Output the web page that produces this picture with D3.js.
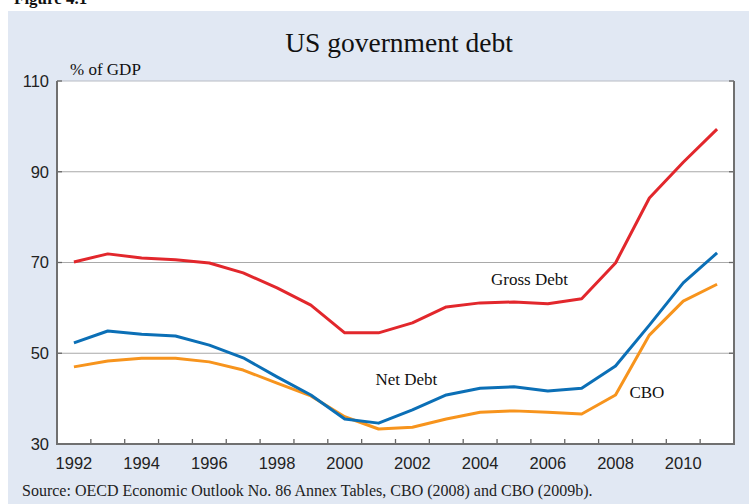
<!DOCTYPE html>
<html>
<head>
<meta charset="utf-8">
<script src="https://cdn.jsdelivr.net/npm/d3@7"></script>
<style>
  body { margin: 0; background: #fff; }
  svg { display: block; }
</style>
</head>
<body>
<script>
  var years = d3.range(1992, 2012);
  var grossDebt = [70.1, 71.9, 71.0, 70.6, 69.9, 67.7, 64.4, 60.6, 54.5, 54.5,
                   56.7, 60.2, 61.1, 61.3, 60.9, 62.0, 69.9, 84.2, 92.1, 99.4];
  var netDebt = [52.3, 54.9, 54.2, 53.8, 51.8, 49.0, 44.8, 40.8, 35.5, 34.6,
                 37.5, 40.8, 42.3, 42.6, 41.7, 42.3, 47.2, 56.2, 65.5, 72.1];
  var cbo = [47.0, 48.3, 48.9, 48.9, 48.1, 46.3, 43.4, 40.6, 36.0, 33.3,
             33.7, 35.5, 37.0, 37.3, 37.0, 36.6, 40.8, 54.0, 61.5, 65.2];
  var yTicks = [30, 50, 70, 90, 110];
  var xLabels = [1992, 1994, 1996, 1998, 2000, 2002, 2004, 2006, 2008, 2010];

  var width = 749, height = 504;
  var plot = {left: 57, right: 734, top: 81, bottom: 444};

  var svg = d3.select("body").append("svg")
      .attr("width", width)
      .attr("height", height);

  // panel
  svg.append("rect")
      .attr("x", 8).attr("y", 11)
      .attr("width", width - 8).attr("height", height - 11)
      .attr("fill", "#e1e8f3");

  svg.append("text")
      .attr("x", 14).attr("y", 4)
      .attr("font-family", "Liberation Serif, Times New Roman, serif")
      .attr("font-weight", "bold")
      .attr("font-size", "17px")
      .attr("fill", "#111")
      .text("Figure 4.1");

  svg.append("rect")
      .attr("x", plot.left).attr("y", plot.top)
      .attr("width", plot.right - plot.left).attr("height", plot.bottom - plot.top)
      .attr("fill", "#fff");

  var xScale = d3.scaleBand()
      .domain(years)
      .range([plot.left, plot.right]);
  var yScale = d3.scaleLinear()
      .domain([30, 110])
      .range([plot.bottom, plot.top]);

  function cx(y) { return xScale(y) + xScale.bandwidth() / 2; }

  // gridlines
  svg.append("g").selectAll("line")
    .data(yTicks.filter(function(d) { return d > 30 && d < 110; }))
    .enter().append("line")
      .attr("x1", plot.left).attr("x2", plot.right)
      .attr("y1", function(d) { return yScale(d); })
      .attr("y2", function(d) { return yScale(d); })
      .attr("stroke", "#a9a9a9")
      .attr("stroke-width", 1.2);

  // top line
  svg.append("line")
      .attr("x1", plot.left).attr("x2", plot.right)
      .attr("y1", plot.top).attr("y2", plot.top)
      .attr("stroke", "#b8bcc4").attr("stroke-width", 1);

  // y axis left
  var yAxis = svg.append("g")
      .attr("transform", "translate(" + plot.left + ",0)")
      .call(d3.axisLeft(yScale).tickValues(yTicks).tickSize(0).tickPadding(8));
  yAxis.select(".domain").remove();
  yAxis.selectAll("text")
      .attr("font-family", "Liberation Sans, Arial, sans-serif")
      .attr("font-size", "16.5px")
      .attr("fill", "#222");

  // y tick marks inside on both sides
  svg.append("g").selectAll("line")
    .data(yTicks)
    .enter().append("line")
      .attr("x1", plot.left).attr("x2", plot.left + 5)
      .attr("y1", function(d) { return yScale(d); })
      .attr("y2", function(d) { return yScale(d); })
      .attr("stroke", "#666").attr("stroke-width", 1.3);
  svg.append("g").selectAll("line")
    .data(yTicks)
    .enter().append("line")
      .attr("x1", plot.right - 5).attr("x2", plot.right)
      .attr("y1", function(d) { return yScale(d); })
      .attr("y2", function(d) { return yScale(d); })
      .attr("stroke", "#666").attr("stroke-width", 1.3);

  // x tick marks at year boundaries
  svg.append("g").selectAll("line")
    .data(years.slice(1))
    .enter().append("line")
      .attr("x1", function(d) { return xScale(d); })
      .attr("x2", function(d) { return xScale(d); })
      .attr("y1", plot.bottom).attr("y2", plot.bottom - 5)
      .attr("stroke", "#666").attr("stroke-width", 1.3);

  // x labels
  var xAxis = svg.append("g")
      .attr("transform", "translate(0," + plot.bottom + ")")
      .call(d3.axisBottom(xScale).tickValues(xLabels).tickSize(0).tickPadding(13));
  xAxis.select(".domain").remove();
  xAxis.selectAll("text")
      .attr("font-family", "Liberation Sans, Arial, sans-serif")
      .attr("font-size", "16.5px")
      .attr("fill", "#222");

  // frame
  svg.append("path")
      .attr("d", "M" + plot.left + "," + plot.top + "V" + plot.bottom + "H" + plot.right + "V" + plot.top)
      .attr("fill", "none")
      .attr("stroke", "#707070")
      .attr("stroke-width", 2);

  // lines
  var line = d3.line()
      .x(function(d, i) { return cx(years[i]); })
      .y(function(d) { return yScale(d); });

  var series = [
    {values: cbo, color: "#f7941d"},
    {values: netDebt, color: "#0b6fb6"},
    {values: grossDebt, color: "#e2272c"}
  ];
  svg.append("g").selectAll("path")
    .data(series)
    .enter().append("path")
      .attr("d", function(d) { return line(d.values); })
      .attr("fill", "none")
      .attr("stroke", function(d) { return d.color; })
      .attr("stroke-width", 3)
      .attr("stroke-linejoin", "round");

  // texts
  var serif = "Liberation Serif, Times New Roman, serif";
  svg.append("text")
      .attr("x", 399).attr("y", 52)
      .attr("text-anchor", "middle")
      .attr("font-family", serif)
      .attr("font-size", "27.5px")
      .attr("fill", "#111")
      .text("US government debt");

  svg.append("text")
      .attr("x", 70).attr("y", 75)
      .attr("font-family", serif)
      .attr("font-size", "17px")
      .attr("fill", "#111")
      .text("% of GDP");

  var labels = [
    {text: "Gross Debt", year: 2005, value: 65.1, dx: -23},
    {text: "Net Debt", year: 2002, value: 43.0, dx: -37},
    {text: "CBO", year: 2009, value: 40.1, dx: -20}
  ];
  svg.append("g").selectAll("text")
    .data(labels)
    .enter().append("text")
      .attr("x", function(d) { return cx(d.year) + d.dx; })
      .attr("y", function(d) { return yScale(d.value); })
      .attr("font-family", serif)
      .attr("font-size", "17px")
      .attr("fill", "#111")
      .text(function(d) { return d.text; });

  svg.append("text")
      .attr("x", 22).attr("y", 496)
      .attr("font-family", serif)
      .attr("font-size", "16px")
      .attr("fill", "#222")
      .text("Source: OECD Economic Outlook No. 86 Annex Tables, CBO (2008) and CBO (2009b).");
</script>
</body>
</html>
